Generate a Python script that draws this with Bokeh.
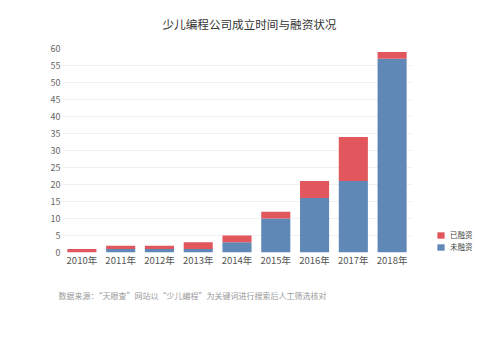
from bokeh.plotting import figure
from bokeh.layouts import row
from bokeh.models import Range1d, FixedTicker, Legend, LegendItem, Title, ColumnDataSource
from bokeh.embed import file_html
from bokeh.resources import INLINE

years = ["2010年", "2011年", "2012年", "2013年", "2014年", "2015年", "2016年", "2017年", "2018年"]
unfunded = [0, 1, 1, 1, 3, 10, 16, 21, 57]   # 未融资
funded = [1, 1, 1, 2, 2, 2, 5, 13, 2]        # 已融资
y_ticks = [0, 5, 10, 15, 20, 25, 30, 35, 40, 45, 50, 55, 60]

FONT = "Noto Sans CJK SC"
BLUE = "#6088B6"
RED = "#E1575D"

src = ColumnDataSource(dict(year=years, 未融资=unfunded, 已融资=funded))

p = figure(x_range=years, y_range=Range1d(0, 60), width=415, height=355,
           output_backend="svg", toolbar_location=None,
           min_border_left=62, min_border_right=4, min_border_top=48, min_border_bottom=103)

r = p.vbar_stack(["未融资", "已融资"], x="year", width=0.75, source=src,
                 color=[BLUE, RED], line_color=None)

p.outline_line_color = None
p.background_fill_color = "white"
p.border_fill_color = "white"

p.yaxis.ticker = FixedTicker(ticks=y_ticks)
p.yaxis.axis_line_color = None
p.yaxis.major_tick_line_color = None
p.yaxis.minor_tick_line_color = None
p.yaxis.major_tick_out = 0
p.yaxis.major_tick_in = 0
p.yaxis.major_label_text_font = FONT
p.yaxis.major_label_text_font_size = "9px"
p.yaxis.major_label_text_color = "#666666"
p.yaxis.major_label_standoff = 2

p.xaxis.axis_line_color = None
p.xaxis.major_tick_line_color = None
p.xaxis.minor_tick_line_color = None
p.xaxis.major_tick_out = 0
p.xaxis.major_tick_in = 0
p.xaxis.major_label_text_font = FONT
p.xaxis.major_label_text_font_size = "9.5px"
p.xaxis.major_label_text_color = "#555555"
p.xaxis.major_label_standoff = 0

p.xgrid.grid_line_color = None
p.ygrid.grid_line_color = "#F0F0F0"
p.ygrid.grid_line_width = 1

p.title = Title(text="少儿编程公司成立时间与融资状况", align="left", offset=100,
                vertical_align="top",
                text_font=FONT, text_font_size="11.6px", text_font_style="normal",
                text_color="#333333", standoff=29)

note = Title(text="数据来源：“天眼查”网站以“少儿编程”为关键词进行搜索后人工筛选核对",
             align="left", offset=-4, vertical_align="top",
             text_font=FONT, text_font_size="8px",
             text_font_style="normal", text_color="#999999", standoff=40)
p.add_layout(note, "below")

# legend panel: a narrow companion figure with hidden renderers,
# so the legend sits outside the chart frame without being clipped
q = figure(width=80, height=355, x_range=years, y_range=Range1d(100, 160),
           output_backend="svg", toolbar_location=None,
           min_border_left=0, min_border_right=0, min_border_top=48, min_border_bottom=103)
q.axis.visible = False
q.grid.grid_line_color = None
q.outline_line_color = None
q.border_fill_color = "white"
q.background_fill_color = "white"
q_red = q.vbar(x="year", top="已融资", width=0.75, source=src, color=RED, line_color=None)
q_blue = q.vbar(x="year", top="未融资", width=0.75, source=src, color=BLUE, line_color=None)
q_red.visible = False
q_blue.visible = False

legend = Legend(items=[LegendItem(label="已融资", renderers=[q_red]),
                       LegendItem(label="未融资", renderers=[q_blue])],
                location=(21, 0), orientation="vertical")
legend.border_line_color = None
legend.background_fill_alpha = 0
legend.inactive_fill_alpha = 0
legend.label_text_font = FONT
legend.label_text_font_size = "7.5px"
legend.label_text_color = "#444444"
legend.glyph_width = 9
legend.glyph_height = 8
legend.label_height = 9
legend.label_standoff = 5
legend.spacing = 1
legend.padding = 2
legend.margin = 0
q.add_layout(legend, "center")

open("out.html", "w").write(file_html(row(p, q), INLINE))
